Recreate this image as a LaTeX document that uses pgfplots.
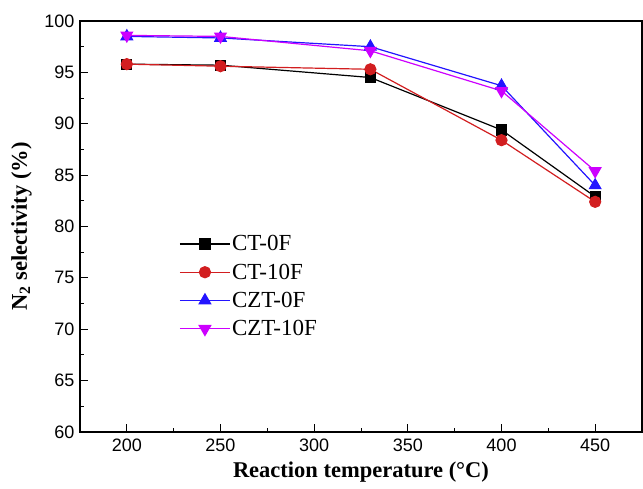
\documentclass[border=0pt]{standalone}
\usepackage{pgfplots}
\pgfplotsset{compat=1.18}
\usepackage{fontspec}
\setmainfont{Liberation Serif}
\newfontfamily\arialfont{Liberation Sans}

\definecolor{cRed}{RGB}{210,30,32}
\definecolor{cBlue}{RGB}{35,20,255}
\definecolor{cMag}{RGB}{205,0,255}

\begin{document}
\begin{tikzpicture}
\useasboundingbox (-80pt,-57pt) rectangle (563pt,432pt);
\begin{axis}[
  scale only axis,
  width=562pt, height=411pt,
  xmin=175, xmax=475,
  ymin=60, ymax=100,
  xtick={200,250,...,450},
  ytick={60,65,...,100},
  minor x tick num=1,
  minor y tick num=1,
  tick align=inside,
  xtick pos=bottom, ytick pos=left,
  major tick length=8pt,
  minor tick length=4pt,
  axis line style={line width=1.3pt},
  every tick/.style={line width=1pt, black},
  /pgf/number format/assume math mode=true,
  tick label style={font=\arialfont\fontsize{18}{18}\selectfont},
  yticklabel style={xshift=-2pt},
  xticklabel style={yshift=-3pt},
  xlabel={\textbf{Reaction temperature (°C)}},
  ylabel={\textbf{N\textsubscript{2} selectivity (\%)}},
  label style={font=\fontsize{22.5}{23}\selectfont},
  xlabel style={at={(axis description cs:0.5,-0.097)}, anchor=center},
  ylabel style={at={(axis description cs:-0.104,0.5)}, anchor=center},
  legend style={
    draw=none, fill=none,
    at={(axis description cs:0.171,0.487)}, anchor=north west,
    font=\fontsize{23}{23}\selectfont,
    row sep=8.5pt,
    nodes={inner sep=1.5pt},
  },
  legend cell align=left,
  legend image code/.code={%
    \draw[line width=1.3pt, mark repeat=2, mark phase=2] plot coordinates {(0pt,0pt) (25pt,0pt) (50pt,0pt)};},
  every axis plot/.append style={line width=1.2pt},
]
\addplot[black, mark=square*, mark size=5pt, mark options={solid}]
  coordinates {(200,95.8) (250,95.7) (330,94.5) (400,89.4) (450,82.9)};
\addlegendentry{CT-0F}
\addplot[cRed, mark=*, mark size=5.5pt, mark options={solid}]
  coordinates {(200,95.8) (250,95.6) (330,95.3) (400,88.4) (450,82.4)};
\addlegendentry{CT-10F}
\addplot[cBlue, mark=triangle*, mark size=6.5pt, mark options={solid}]
  coordinates {(200,98.5) (250,98.35) (330,97.5) (400,93.7) (450,84.0)};
\addlegendentry{CZT-0F}
\addplot[cMag, mark=triangle*, mark size=6.5pt, mark options={solid, rotate=180}]
  coordinates {(200,98.6) (250,98.5) (330,97.1) (400,93.2) (450,85.4)};
\addlegendentry{CZT-10F}
\end{axis}
\end{tikzpicture}
\end{document}
